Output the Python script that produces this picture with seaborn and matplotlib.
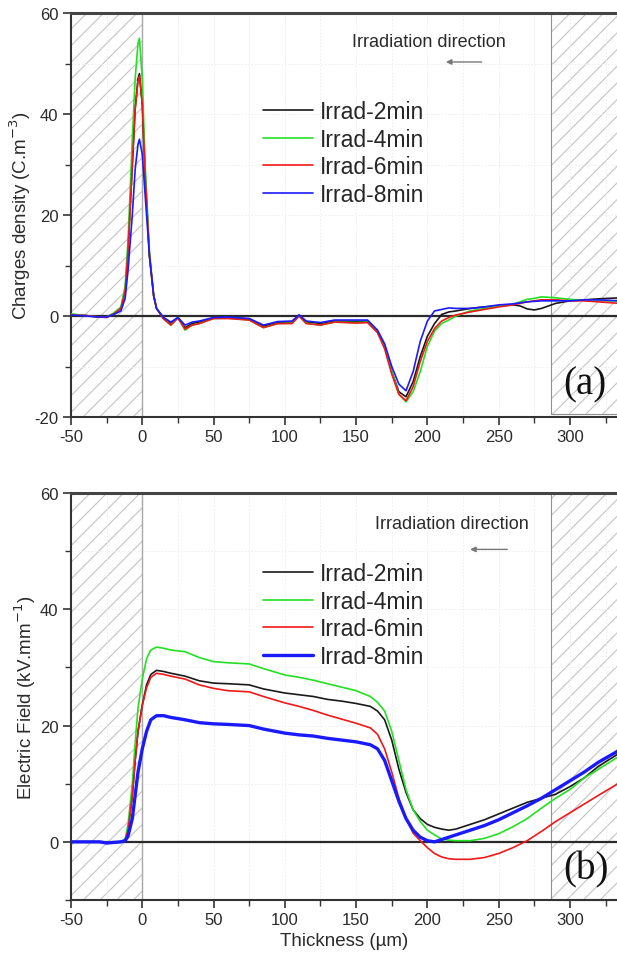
import numpy as np
import pandas as pd
import matplotlib
matplotlib.use("Agg")
import matplotlib.pyplot as plt
import seaborn as sns

# ── data: panel (a) charge density ──────────────────────────
x_a = [-50, -40, -30, -25, -20, -15, -12, -10, -7, -5, -3, -2, 0, 2, 5, 8, 10, 15, 20, 25,
       30, 35, 40, 50, 60, 75, 85, 95, 105, 110, 115, 125, 135, 150, 158, 165, 170, 175, 180, 185,
       190, 195, 200, 205, 210, 215, 220, 230, 240, 250, 260, 265, 270, 275, 280, 290, 300, 310, 320, 335]
rho_2min = [0.3, 0.1, -0.2, -0.2, 0.5, 1.5, 5, 13, 30, 41, 47, 48, 42, 28, 12, 4, 1.5, -0.5, -1.5, -0.3,
            -2.3, -1.5, -1.2, -0.4, -0.3, -0.6, -2, -1.3, -1.2, 0.2, -1.2, -1.5, -1, -1.1, -1, -3, -6, -11, -15, -16,
            -13, -8, -4, -1.5, 0.3, 0.8, 1, 1.5, 1.8, 2, 2.2, 2, 1.4, 1.2, 1.5, 2.5, 3, 3.2, 3.4, 3.6]
rho_4min = [0.4, 0.1, -0.2, -0.2, 0.6, 1.8, 6, 15, 35, 47, 54, 55, 47, 30, 13, 4, 1.5, -0.5, -1.8, -0.3,
            -2.8, -1.8, -1.5, -0.5, -0.4, -0.8, -2.3, -1.5, -1.4, 0, -1.4, -1.8, -1.2, -1.3, -1.2, -3.2, -6.2, -11, -15.5, -17,
            -15, -11, -6, -3, -1.5, -0.8, 0, 1, 1.5, 2, 2.3, 2.8, 3.3, 3.5, 3.8, 3.6, 3.3, 3.1, 3, 3]
rho_6min = [0.2, 0.1, -0.2, -0.3, 0.4, 1.5, 5, 13, 30, 41, 46.5, 47.5, 42, 28, 12, 4, 1.5, -0.6, -1.8, -0.4,
            -2.6, -1.8, -1.5, -0.5, -0.5, -0.8, -2.3, -1.5, -1.5, 0, -1.5, -1.8, -1.2, -1.4, -1.3, -3.3, -6.5, -11.5, -15.5, -16.8,
            -14, -9, -5, -2.5, -1, -0.3, 0.2, 0.8, 1.3, 1.8, 2.2, 2.5, 2.8, 3, 3.2, 3.2, 3, 3, 2.8, 2.5]
rho_8min = [0.2, 0, -0.2, -0.2, 0.3, 1, 3.5, 9, 20, 29, 34, 35, 32, 24, 12, 4, 1.5, -0.3, -1.2, -0.3,
            -1.8, -1.2, -1, -0.3, -0.2, -0.5, -1.8, -1.1, -1, 0.2, -1, -1.3, -0.8, -0.8, -0.8, -2.8, -5.5, -10, -13.5, -14.8,
            -11, -5, -1, 1, 1.3, 1.6, 1.5, 1.5, 1.8, 2.2, 2.4, 2.6, 2.8, 2.9, 3, 3, 3, 3.2, 3.2, 3]

# ── data: panel (b) electric field ──────────────────────────
x_b = [-50, -30, -25, -20, -15, -12, -10, -7, -5, -3, 0, 3, 6, 10, 15, 20, 30, 40, 50, 60,
       75, 85, 100, 110, 120, 130, 140, 150, 160, 165, 170, 175, 180, 185, 190, 195, 200, 205, 210, 215,
       220, 230, 240, 250, 260, 270, 280, 290, 300, 310, 320, 335]
e_2min = [0, 0, -0.2, -0.1, 0, 0.3, 2, 8, 14, 19, 23.5, 27, 28.8, 29.5, 29.3, 29, 28.5, 27.7, 27.3, 27.2,
          27, 26.3, 25.6, 25.3, 25, 24.5, 24.2, 23.8, 23.3, 22.5, 21, 17.5, 12.5, 8.5, 5.5, 4, 3, 2.5, 2.2, 2,
          2.2, 3, 3.8, 4.8, 5.8, 6.8, 7.5, 8.2, 9.5, 11, 13, 15.3]
e_4min = [0, 0, -0.1, 0, 0, 0.5, 3, 10, 17, 23, 28, 31.5, 33, 33.5, 33.3, 33, 32.7, 31.7, 31, 30.8,
          30.6, 29.8, 28.7, 28.3, 27.8, 27.2, 26.6, 26, 25, 24, 22.5, 19, 14, 9, 5.5, 3.5, 2, 1.2, 0.5, 0.3,
          0.2, 0.2, 0.6, 1.4, 2.6, 4, 5.8, 7.5, 9, 11, 12.5, 14.8]
e_6min = [0, 0, -0.2, -0.1, 0, 0.3, 2, 8, 14, 19, 23.5, 26.5, 28.3, 29, 28.8, 28.5, 28, 27, 26.4, 26,
          25.8, 25, 23.9, 23.3, 22.6, 21.8, 21.1, 20.4, 19.6, 18.5, 16, 12, 7.5, 4, 1.5, 0.2, -1, -2, -2.6, -2.9,
          -3, -3, -2.7, -2, -1, 0.2, 1.8, 3.5, 5, 6.5, 8, 10.2]
e_8min = [0, 0, -0.2, -0.1, 0, 0.2, 1, 4, 8, 12, 16, 19, 21, 21.7, 21.7, 21.4, 21, 20.5, 20.3, 20.2,
          20, 19.4, 18.7, 18.4, 18.2, 17.8, 17.5, 17.2, 16.7, 16, 14, 10.5, 7, 4, 2, 0.8, 0.2, 0, 0.4, 0.8,
          1.2, 2, 2.8, 3.8, 5, 6.2, 7.5, 9, 10.5, 12, 13.7, 15.8]

labels = ["Irrad-2min", "Irrad-4min", "Irrad-6min", "Irrad-8min"]
colors = ["#1a1a1a", "#22e022", "#f01818", "#1a1aff"]

df_a = pd.concat([pd.DataFrame({"x": x_a, "y": v, "s": lab})
                  for v, lab in zip([rho_2min, rho_4min, rho_6min, rho_8min], labels)])
df_b = pd.concat([pd.DataFrame({"x": x_b, "y": v, "s": lab})
                  for v, lab in zip([e_2min, e_4min, e_6min, e_8min], labels)])

# ── style ────────────────────────────────────────────────────
sns.set_style("white")
plt.rcParams["font.family"] = ["Liberation Sans", "DejaVu Sans"]
plt.rcParams["axes.unicode_minus"] = False
plt.rcParams["hatch.linewidth"] = 0.8
plt.rcParams["hatch.color"] = "#c4c4c4"

W, H = 617, 962
fig = plt.figure(figsize=(W / 100, H / 100), dpi=100)

X_RIGHT = 333
LEFT_PX = 71
TXT = "#2a2a2a"


def setup(ax, ylim, ymajor, yminor, rect_bottom):
    ax.set_xlim(-50, X_RIGHT)
    ax.set_ylim(*ylim)
    # hatched electrode zones
    ax.axvspan(-50, 0, facecolor="none", hatch="//", edgecolor="#c4c4c4", lw=0, zorder=0)
    ax.fill_between([287, X_RIGHT + 5], rect_bottom, ylim[1], facecolor="none", hatch="//",
                    edgecolor="#c4c4c4", lw=0, zorder=0)
    ax.axvline(0, color="#a8a8a8", lw=1.0, zorder=1)
    ax.plot([287, 287], [rect_bottom, ylim[1]], color="#909090", lw=0.8, zorder=1)
    ax.plot([287, X_RIGHT + 5], [rect_bottom, rect_bottom], color="#909090", lw=0.8,
            zorder=1, clip_on=False)
    ax.axhline(0, color="#2a2a2a", lw=1.6, zorder=2)
    ax.set_xticks(np.arange(-50, 301, 50))
    ax.set_xticks(np.arange(-25, 330, 50), minor=True)
    ax.set_yticks(ymajor)
    ax.set_yticks(yminor, minor=True)
    ax.grid(True, which="both", color="#ececec", lw=0.6, ls=(0, (2, 2)), zorder=0)
    ax.tick_params(which="major", direction="out", length=6, width=1.2, color="#333333",
                   labelsize=12, labelcolor=TXT, bottom=True, left=True, pad=3)
    ax.tick_params(which="minor", direction="out", length=4, width=1.0, color="#333333",
                   bottom=True, left=True)
    for side in ["left", "bottom"]:
        ax.spines[side].set_color("#333333")
        ax.spines[side].set_linewidth(1.5)
    ax.spines["top"].set_color("#444444")
    ax.spines["top"].set_linewidth(2.2)
    ax.spines["right"].set_visible(False)


def place(top_px, bottom_px):
    return [LEFT_PX / W, 1 - bottom_px / H, (W - LEFT_PX) / W, (bottom_px - top_px) / H]


LEG = dict(frameon=False, fontsize=16.5, handlelength=2.2, handletextpad=0.3, labelspacing=0.2,
           borderpad=0, borderaxespad=0, loc="upper left")

# ── panel (a) ───────────────────────────────────────────────
ax1 = fig.add_axes(place(14, 418))
setup(ax1, (-20, 60), [-20, 0, 20, 40, 60], [-10, 10, 30, 50], -19.5)
sns.lineplot(data=df_a, x="x", y="y", hue="s", palette=colors, lw=1.2, ax=ax1,
             sort=False, estimator=None, zorder=3)
ax1.set_xlabel("")
ax1.set_ylabel("Charges density (C.m$^{-3}$)", fontsize=13.5, color=TXT, labelpad=1)
ax1.legend(bbox_to_anchor=(263 / W, 1 - 101 / H), bbox_transform=fig.transFigure, **LEG)
ax1.text(147, 54.3, "Irradiation direction", fontsize=13, color=TXT, va="center", ha="left")
ax1.annotate("", xy=(211, 50.3), xytext=(240, 50.3),
             arrowprops=dict(arrowstyle="-|>", color="#777777", lw=1.0, mutation_scale=8))
ax1.text(0.942, 0.082, "(a)", transform=ax1.transAxes, fontsize=28, ha="center", va="center",
         family=["Liberation Serif", "DejaVu Serif"], color="#111111")

# ── panel (b) ───────────────────────────────────────────────
ax2 = fig.add_axes(place(494, 901))
setup(ax2, (-10, 60), [0, 20, 40, 60], [-10, 10, 30, 50], -10)
sns.lineplot(data=df_b, x="x", y="y", hue="s", palette=colors, ax=ax2,
             sort=False, estimator=None, zorder=3, lw=1.2)
# thicker blue trace as in the source figure
for line in ax2.get_lines():
    if matplotlib.colors.to_hex(line.get_color()) == colors[3]:
        line.set_linewidth(2.4)
ax2.set_xlabel("Thickness (µm)", fontsize=13.5, color=TXT, labelpad=3)
ax2.set_ylabel("Electric Field (kV.mm$^{-1}$)", fontsize=13.5, color=TXT, labelpad=1)
leg2 = ax2.legend(bbox_to_anchor=(263 / W, 1 - 563 / H), bbox_transform=fig.transFigure, **LEG)
for h in leg2.get_lines():
    if matplotlib.colors.to_hex(h.get_color()) == colors[3]:
        h.set_linewidth(2.4)
ax2.text(163, 54.7, "Irradiation direction", fontsize=13, color=TXT, va="center", ha="left")
ax2.annotate("", xy=(228, 50.3), xytext=(258, 50.3),
             arrowprops=dict(arrowstyle="-|>", color="#777777", lw=1.0, mutation_scale=8))
ax2.text(0.944, 0.076, "(b)", transform=ax2.transAxes, fontsize=28, ha="center", va="center",
         family=["Liberation Serif", "DejaVu Serif"], color="#111111")

fig.savefig("out.png", dpi=100)
